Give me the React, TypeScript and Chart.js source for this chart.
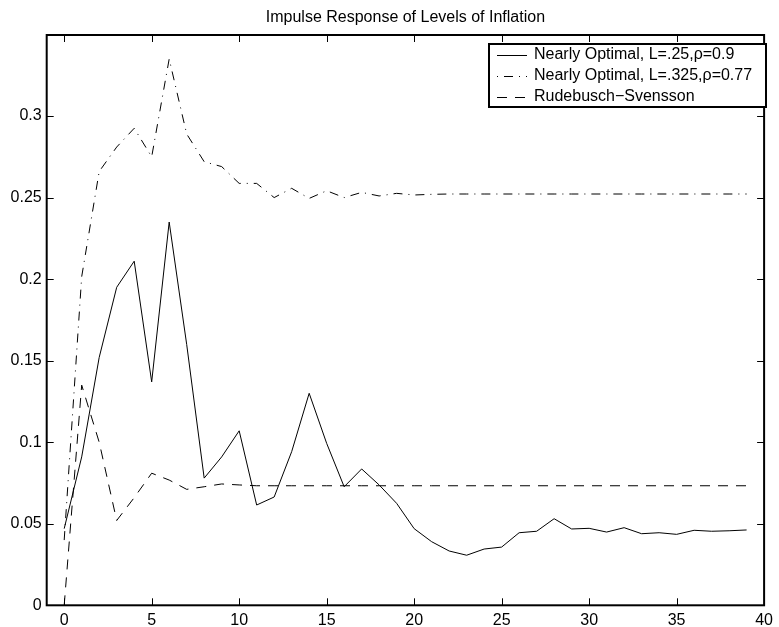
import { useEffect, useRef } from "react";
import { Chart, registerables } from "chart.js";

Chart.register(...registerables);

const TITLE = "Impulse Response of Levels of Inflation";

const periods = [
  0, 1, 2, 3, 4, 5, 6, 7, 8, 9, 10, 11, 12, 13, 14, 15, 16, 17, 18, 19,
  20, 21, 22, 23, 24, 25, 26, 27, 28, 29, 30, 31, 32, 33, 34, 35, 36, 37, 38, 39,
];

const nearlyOptimal25 = [
  0.047, 0.091, 0.152, 0.195, 0.211, 0.137, 0.235, 0.16, 0.078, 0.091,
  0.107, 0.0615, 0.0664, 0.0942, 0.13, 0.0993, 0.0727, 0.0836, 0.0738, 0.0625,
  0.047, 0.039, 0.0333, 0.0307, 0.0345, 0.0357, 0.0445, 0.0454, 0.0531, 0.0468,
  0.0472, 0.0449, 0.0476, 0.0439, 0.0445, 0.0435, 0.046, 0.0454, 0.0457, 0.0462,
];

const nearlyOptimal325 = [
  0.04, 0.2015, 0.266, 0.281, 0.2925, 0.275, 0.335, 0.289, 0.272, 0.269,
  0.2587, 0.2587, 0.25, 0.2557, 0.2495, 0.2542, 0.25, 0.2532, 0.251, 0.2526,
  0.2516, 0.252, 0.2522, 0.2522, 0.2522, 0.2522, 0.2522, 0.2522, 0.2522, 0.2522,
  0.2522, 0.2522, 0.2522, 0.2522, 0.2522, 0.2522, 0.2522, 0.2522, 0.2522, 0.2522,
];

const rudebuschSvensson = [
  0, 0.135, 0.1, 0.052, 0.066, 0.081, 0.0768, 0.0711, 0.0727, 0.0744,
  0.0738, 0.0733, 0.0733, 0.0733, 0.0733, 0.0733, 0.0733, 0.0733, 0.0733, 0.0733,
  0.0733, 0.0733, 0.0733, 0.0733, 0.0733, 0.0733, 0.0733, 0.0733, 0.0733, 0.0733,
  0.0733, 0.0733, 0.0733, 0.0733, 0.0733, 0.0733, 0.0733, 0.0733, 0.0733, 0.0733,
];

const seriesLabels = [
  "Nearly Optimal, L=.25,\u03c1=0.9",
  "Nearly Optimal, L=.325,\u03c1=0.77",
  "Rudebusch\u2212Svensson",
];

const xTickValues = [0, 5, 10, 15, 20, 25, 30, 35, 40];
const xTickLabels = ["0", "5", "10", "15", "20", "25", "30", "35", "40"];
const yTickValues = [0, 0.05, 0.1, 0.15, 0.2, 0.25, 0.3];
const yTickLabels = ["0", "0.05", "0.1", "0.15", "0.2", "0.25", "0.3"];

const FONT = "'Liberation Sans', Arial, Helvetica, sans-serif";
const DASHED = [10, 8];
const DASHDOT = [9, 6, 1, 6];

const framePlugin = {
  id: "matlabFrame",
  afterDatasetsDraw(chart: any) {
    const { ctx, chartArea, scales } = chart;
    const { left, right, top, bottom } = chartArea;
    const xs = scales.x;
    const ys = scales.y;
    ctx.save();
    ctx.strokeStyle = "#000";
    ctx.lineWidth = 1;
    ctx.setLineDash([]);
    ctx.beginPath();
    const tl = 7;
    xs.ticks.forEach((t: any) => {
      const px = Math.round(xs.getPixelForValue(t.value)) + 0.5;
      ctx.moveTo(px, bottom);
      ctx.lineTo(px, bottom - tl);
      ctx.moveTo(px, top);
      ctx.lineTo(px, top + tl);
    });
    ys.ticks.forEach((t: any) => {
      const py = Math.round(ys.getPixelForValue(t.value)) + 0.5;
      ctx.moveTo(left, py);
      ctx.lineTo(left + tl, py);
      ctx.moveTo(right, py);
      ctx.lineTo(right - tl, py);
    });
    ctx.stroke();
    ctx.lineWidth = 2;
    ctx.strokeRect(left, top, right - left, bottom - top);

    // legend box
    const bx = 489;
    const by = 44;
    const bw = 277;
    const bh = 63;
    ctx.fillStyle = "#fff";
    ctx.fillRect(bx, by, bw, bh);
    ctx.lineWidth = 2;
    ctx.strokeRect(bx, by, bw, bh);
    const dashes = [[], DASHDOT, DASHED];
    const offsets = [0, 15, 0];
    ctx.font = `16px ${FONT}`;
    ctx.textBaseline = "middle";
    ctx.textAlign = "left";
    seriesLabels.forEach((lab, i) => {
      const cy = by + 11 + i * 21;
      ctx.beginPath();
      ctx.lineWidth = 1;
      ctx.setLineDash(dashes[i]);
      ctx.lineDashOffset = offsets[i];
      ctx.moveTo(497, Math.round(cy) + 0.5);
      ctx.lineTo(527, Math.round(cy) + 0.5);
      ctx.stroke();
      ctx.setLineDash([]);
      ctx.lineDashOffset = 0;
      ctx.fillStyle = "#000";
      ctx.fillText(lab, 534, cy);
    });
    ctx.restore();
  },
};

export default function App() {
  const ref = useRef<HTMLCanvasElement | null>(null);
  useEffect(() => {
    document.body.style.margin = "0";
    const canvas = ref.current;
    if (!canvas) return;
    const mk = (arr: number[]) => periods.map((p, i) => ({ x: p, y: arr[i] }));
    const chart = new Chart(canvas, {
      type: "line",
      data: {
        datasets: [
          {
            label: seriesLabels[0],
            data: mk(nearlyOptimal25),
            borderColor: "#000",
            borderWidth: 1,
            pointRadius: 0,
            tension: 0,
          },
          {
            label: seriesLabels[1],
            data: mk(nearlyOptimal325),
            borderColor: "#000",
            borderWidth: 1,
            borderDash: DASHDOT,
            pointRadius: 0,
            tension: 0,
          },
          {
            label: seriesLabels[2],
            data: mk(rudebuschSvensson),
            borderColor: "#000",
            borderWidth: 1,
            borderDash: DASHED,
            pointRadius: 0,
            tension: 0,
          },
        ],
      },
      options: {
        animation: false,
        responsive: false,
        maintainAspectRatio: false,
        devicePixelRatio: 1,
        layout: { padding: { left: 0, right: 9.7, top: 0, bottom: 0 } },
        plugins: {
          legend: { display: false },
          tooltip: { enabled: false },
          title: {
            display: true,
            text: TITLE,
            fullSize: false,
            color: "#000",
            font: { size: 16, family: FONT, weight: "normal" as any, lineHeight: 1.2 },
            padding: { top: 8, bottom: 7.8 },
          },
        },
        scales: {
          x: {
            type: "linear",
            min: -1,
            max: 40,
            grid: { display: false, drawTicks: false },
            border: { display: false },
            afterBuildTicks: (s: any) => {
              s.ticks = xTickValues.map((v) => ({ value: v }));
            },
            afterFit: (s: any) => {
              s.height = 21.7;
            },
            ticks: {
              autoSkip: false,
              maxRotation: 0,
              padding: 6,
              color: "#000",
              font: { size: 16, family: FONT },
              callback: (_v: any, i: number) => xTickLabels[i],
            },
          },
          y: {
            type: "linear",
            min: 0,
            max: 0.3497,
            grid: { display: false, drawTicks: false },
            border: { display: false },
            afterBuildTicks: (s: any) => {
              s.ticks = yTickValues.map((v) => ({ value: v }));
            },
            afterFit: (s: any) => {
              s.width = 46.7;
            },
            ticks: {
              autoSkip: false,
              padding: 5,
              color: "#000",
              font: { size: 16, family: FONT },
              callback: (_v: any, i: number) => yTickLabels[i],
            },
          },
        },
      },
      plugins: [framePlugin],
    });
    return () => chart.destroy();
  }, []);
  return (
    <canvas ref={ref} width={779} height={627} style={{ display: "block" }} />
  );
}
